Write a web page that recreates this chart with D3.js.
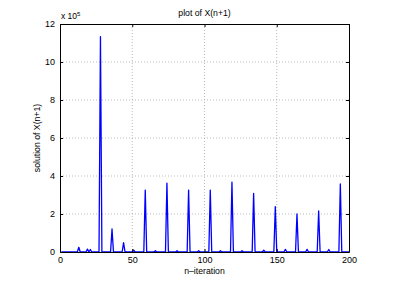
<!DOCTYPE html>
<html>
<head>
  <meta charset="utf-8">
  <title>plot of X(n+1)</title>
  <script src="https://d3js.org/d3.v7.min.js"></script>
  <style>
    body { margin: 0; background: #fff; }
    text { font-family: "Liberation Sans", Arial, sans-serif; fill: #000; }
  </style>
</head>
<body>
<script>
  // iterations 1..200, values (units of 1e5)
  var nFirst = 1, nLast = 200;
  var peakN   = [13, 19, 21, 28, 36, 44, 51, 59, 66, 74, 81, 89, 96, 104, 111, 119, 126, 134, 141, 149, 156, 164, 171, 179, 186, 194];
  var peakVal = [0.25, 0.15, 0.13, 11.33, 1.21, 0.49, 0.1, 3.26, 0.07, 3.63, 0.07, 3.26, 0.07, 3.26, 0.07, 3.68, 0.07, 3.09, 0.09, 2.39, 0.14, 2.0, 0.14, 2.16, 0.13, 3.58];
  var xTicks = [0, 50, 100, 150, 200];
  var yTicks = [0, 2, 4, 6, 8, 10, 12];

  var series = [];
  for (var n = nFirst; n <= nLast; n++) {
    var k = peakN.indexOf(n);
    series.push({n: n, v: k >= 0 ? peakVal[k] : 0});
  }

  var W = 394, H = 282;
  var m = {left: 60, right: 45, top: 24, bottom: 30};
  var iw = W - m.left - m.right, ih = H - m.top - m.bottom;

  var svg = d3.select("body").append("svg").attr("width", W).attr("height", H);
  var g = svg.append("g").attr("transform", "translate(" + m.left + "," + m.top + ")");

  var x = d3.scaleLinear().domain([0, 200]).range([0, iw]);
  var y = d3.scaleLinear().domain([0, 12]).range([ih, 0]);

  // dotted grid
  g.selectAll(".gx").data(xTicks.slice(1, -1)).enter().append("line")
    .attr("x1", d => x(d)).attr("x2", d => x(d)).attr("y1", 0).attr("y2", ih)
    .attr("stroke", "#aaa").attr("stroke-width", 0.8).attr("stroke-dasharray", "1,2");
  g.selectAll(".gy").data(yTicks.slice(1, -1)).enter().append("line")
    .attr("x1", 0).attr("x2", iw).attr("y1", d => y(d)).attr("y2", d => y(d))
    .attr("stroke", "#aaa").attr("stroke-width", 0.8).attr("stroke-dasharray", "1,2");

  // the line
  var line = d3.line().x(d => x(d.n)).y(d => y(d.v));
  g.append("path").datum(series).attr("d", line)
    .attr("fill", "none").attr("stroke", "#0000ff").attr("stroke-width", 1.3)
    .attr("stroke-linejoin", "round");

  // axes, MATLAB style: box with inward ticks
  var ax = {
    bottom: d3.axisBottom(x).tickValues(xTicks).tickSizeInner(-3).tickSizeOuter(0).tickPadding(5),
    top: d3.axisTop(x).tickValues(xTicks).tickSizeInner(-3).tickSizeOuter(0).tickFormat(""),
    left: d3.axisLeft(y).tickValues(yTicks).tickSizeInner(-3).tickSizeOuter(0).tickPadding(5),
    right: d3.axisRight(y).tickValues(yTicks).tickSizeInner(-3).tickSizeOuter(0).tickFormat("")
  };
  g.append("g").attr("transform", "translate(0," + ih + ")").call(ax.bottom);
  g.append("g").call(ax.top);
  g.append("g").call(ax.left);
  g.append("g").attr("transform", "translate(" + iw + ",0)").call(ax.right);
  g.selectAll(".domain").attr("stroke", "#000").attr("stroke-width", 1);
  g.selectAll(".tick line").attr("stroke", "#000");
  g.selectAll(".tick text").attr("font-size", 9).attr("font-family", "Liberation Sans, Arial, sans-serif");

  // exponent
  var ex = g.append("text").attr("x", 1).attr("y", -5).attr("font-size", 8.5);
  ex.append("tspan").text("x 10");
  ex.append("tspan").attr("dy", -3).attr("font-size", 6).text("5");

  // title and labels
  svg.append("text").attr("x", m.left + iw / 2).attr("y", 16).attr("text-anchor", "middle")
    .attr("font-size", 8.7).text("plot of X(n+1)");
  svg.append("text").attr("x", m.left + iw / 2).attr("y", 274).attr("text-anchor", "middle")
    .attr("font-size", 8.7).text("n\u2013iteration");
  svg.append("text").attr("transform", "translate(40," + (m.top + ih / 2) + ") rotate(-90)")
    .attr("text-anchor", "middle").attr("font-size", 8.7).text("solution of X(n+1)");
</script>
</body>
</html>
